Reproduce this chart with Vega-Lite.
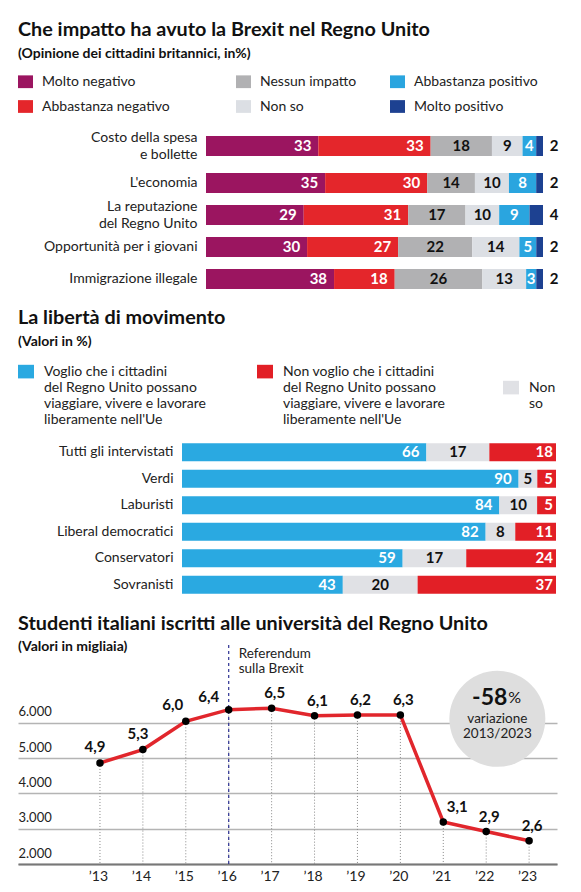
{
  "$schema": "https://vega.github.io/schema/vega-lite/v6.json",
  "padding": {"left": 0, "top": 20, "right": 0, "bottom": 0},
  "background": "white",
  "config": {
    "view": {"stroke": null},
    "font": "Lato",
    "title": {"font": "Lato", "fontSize": 19.8, "fontWeight": "bold", "color": "#111111", "anchor": "start", "dx": 18, "subtitleFont": "Lato", "subtitleFontSize": 14, "subtitleFontWeight": "bold", "subtitleColor": "#111111", "subtitlePadding": 7}
  },
  "datasets": {
    "impatto": [
      {"voce": "Costo della spesa e bollette", "giudizio": "Molto negativo", "ordine": 1, "valore": 33},
      {"voce": "Costo della spesa e bollette", "giudizio": "Abbastanza negativo", "ordine": 2, "valore": 33},
      {"voce": "Costo della spesa e bollette", "giudizio": "Nessun impatto", "ordine": 3, "valore": 18},
      {"voce": "Costo della spesa e bollette", "giudizio": "Non so", "ordine": 4, "valore": 9},
      {"voce": "Costo della spesa e bollette", "giudizio": "Abbastanza positivo", "ordine": 5, "valore": 4},
      {"voce": "Costo della spesa e bollette", "giudizio": "Molto positivo", "ordine": 6, "valore": 2},
      {"voce": "L'economia", "giudizio": "Molto negativo", "ordine": 1, "valore": 35},
      {"voce": "L'economia", "giudizio": "Abbastanza negativo", "ordine": 2, "valore": 30},
      {"voce": "L'economia", "giudizio": "Nessun impatto", "ordine": 3, "valore": 14},
      {"voce": "L'economia", "giudizio": "Non so", "ordine": 4, "valore": 10},
      {"voce": "L'economia", "giudizio": "Abbastanza positivo", "ordine": 5, "valore": 8},
      {"voce": "L'economia", "giudizio": "Molto positivo", "ordine": 6, "valore": 2},
      {"voce": "La reputazione del Regno Unito", "giudizio": "Molto negativo", "ordine": 1, "valore": 29},
      {"voce": "La reputazione del Regno Unito", "giudizio": "Abbastanza negativo", "ordine": 2, "valore": 31},
      {"voce": "La reputazione del Regno Unito", "giudizio": "Nessun impatto", "ordine": 3, "valore": 17},
      {"voce": "La reputazione del Regno Unito", "giudizio": "Non so", "ordine": 4, "valore": 10},
      {"voce": "La reputazione del Regno Unito", "giudizio": "Abbastanza positivo", "ordine": 5, "valore": 9},
      {"voce": "La reputazione del Regno Unito", "giudizio": "Molto positivo", "ordine": 6, "valore": 4},
      {"voce": "Opportunità per i giovani", "giudizio": "Molto negativo", "ordine": 1, "valore": 30},
      {"voce": "Opportunità per i giovani", "giudizio": "Abbastanza negativo", "ordine": 2, "valore": 27},
      {"voce": "Opportunità per i giovani", "giudizio": "Nessun impatto", "ordine": 3, "valore": 22},
      {"voce": "Opportunità per i giovani", "giudizio": "Non so", "ordine": 4, "valore": 14},
      {"voce": "Opportunità per i giovani", "giudizio": "Abbastanza positivo", "ordine": 5, "valore": 5},
      {"voce": "Opportunità per i giovani", "giudizio": "Molto positivo", "ordine": 6, "valore": 2},
      {"voce": "Immigrazione illegale", "giudizio": "Molto negativo", "ordine": 1, "valore": 38},
      {"voce": "Immigrazione illegale", "giudizio": "Abbastanza negativo", "ordine": 2, "valore": 18},
      {"voce": "Immigrazione illegale", "giudizio": "Nessun impatto", "ordine": 3, "valore": 26},
      {"voce": "Immigrazione illegale", "giudizio": "Non so", "ordine": 4, "valore": 13},
      {"voce": "Immigrazione illegale", "giudizio": "Abbastanza positivo", "ordine": 5, "valore": 3},
      {"voce": "Immigrazione illegale", "giudizio": "Molto positivo", "ordine": 6, "valore": 2}
    ],
    "movimento": [
      {"gruppo": "Tutti gli intervistati", "risposta": "Voglio", "ordine": 1, "valore": 66},
      {"gruppo": "Tutti gli intervistati", "risposta": "Non so", "ordine": 2, "valore": 17},
      {"gruppo": "Tutti gli intervistati", "risposta": "Non voglio", "ordine": 3, "valore": 18},
      {"gruppo": "Verdi", "risposta": "Voglio", "ordine": 1, "valore": 90},
      {"gruppo": "Verdi", "risposta": "Non so", "ordine": 2, "valore": 5},
      {"gruppo": "Verdi", "risposta": "Non voglio", "ordine": 3, "valore": 5},
      {"gruppo": "Laburisti", "risposta": "Voglio", "ordine": 1, "valore": 84},
      {"gruppo": "Laburisti", "risposta": "Non so", "ordine": 2, "valore": 10},
      {"gruppo": "Laburisti", "risposta": "Non voglio", "ordine": 3, "valore": 5},
      {"gruppo": "Liberal democratici", "risposta": "Voglio", "ordine": 1, "valore": 82},
      {"gruppo": "Liberal democratici", "risposta": "Non so", "ordine": 2, "valore": 8},
      {"gruppo": "Liberal democratici", "risposta": "Non voglio", "ordine": 3, "valore": 11},
      {"gruppo": "Conservatori", "risposta": "Voglio", "ordine": 1, "valore": 59},
      {"gruppo": "Conservatori", "risposta": "Non so", "ordine": 2, "valore": 17},
      {"gruppo": "Conservatori", "risposta": "Non voglio", "ordine": 3, "valore": 24},
      {"gruppo": "Sovranisti", "risposta": "Voglio", "ordine": 1, "valore": 43},
      {"gruppo": "Sovranisti", "risposta": "Non so", "ordine": 2, "valore": 20},
      {"gruppo": "Sovranisti", "risposta": "Non voglio", "ordine": 3, "valore": 37}
    ],
    "studenti": [
      {"anno": 2013, "studenti": 4860, "etichetta": "4,9"},
      {"anno": 2014, "studenti": 5240, "etichetta": "5,3"},
      {"anno": 2015, "studenti": 6040, "etichetta": "6,0"},
      {"anno": 2016, "studenti": 6370, "etichetta": "6,4"},
      {"anno": 2017, "studenti": 6410, "etichetta": "6,5"},
      {"anno": 2018, "studenti": 6200, "etichetta": "6,1"},
      {"anno": 2019, "studenti": 6220, "etichetta": "6,2"},
      {"anno": 2020, "studenti": 6220, "etichetta": "6,3"},
      {"anno": 2021, "studenti": 3190, "etichetta": "3,1"},
      {"anno": 2022, "studenti": 2920, "etichetta": "2,9"},
      {"anno": 2023, "studenti": 2660, "etichetta": "2,6"}
    ]
  },
  "concat": [
    {
      "title": {"text": "Che impatto ha avuto la Brexit nel Regno Unito", "subtitle": "(Opinione dei cittadini britannici, in%)", "offset": 13},
      "width": 581,
      "height": 40,
      "data": {"name": "impatto"},
      "transform": [
        {"filter": "datum.voce == 'Costo della spesa e bollette'"},
        {"stack": "valore", "groupby": ["voce"], "sort": [{"field": "ordine", "order": "ascending"}], "offset": "normalize", "as": ["x0", "x1"]}
      ],
      "encoding": {
        "y": {"field": "voce", "type": "nominal", "sort": null, "scale": {"range": [0, 42]}, "axis": {"title": null, "domain": false, "ticks": false, "offset": -206, "labelPadding": 9, "labelFontSize": 14, "labelColor": "#222222", "labelLimit": 200, "labelLineHeight": 17, "labelOffset": -8, "labelExpr": "['Costo della spesa', 'e bollette']"}}
      },
      "layer": [
        {
          "mark": {"type": "bar", "size": 20},
          "encoding": {
            "x": {"field": "x0", "type": "quantitative", "scale": {"domain": [0, 1], "nice": false, "range": [206, 543]}, "axis": null},
            "x2": {"field": "x1"},
            "color": {
              "field": "giudizio", "type": "nominal", "sort": null,
              "scale": {"domain": ["Molto negativo", "Abbastanza negativo", "Nessun impatto", "Non so", "Abbastanza positivo", "Molto positivo"], "range": ["#9b1560", "#e4262b", "#b1b1b3", "#dcdfe4", "#2aa5df", "#1d4191"]},
              "legend": {"orient": "none", "legendX": 18, "legendY": -51, "title": null, "columns": 3, "direction": "horizontal", "gridAlign": "each", "columnPadding": 33, "rowPadding": 10, "values": ["Molto negativo", "Nessun impatto", "Abbastanza positivo", "Abbastanza negativo", "Non so", "Molto positivo"], "symbolType": "M-1,-0.85H1V0.85H-1Z", "symbolSize": 225, "symbolStrokeWidth": 0, "labelOffset": 9, "labelFontSize": 14, "labelColor": "#222222", "labelLimit": 300, "labelExpr": "datum.label == 'Abbastanza negativo' ? datum.label + '\u00a0\u00a0\u00a0\u00a0\u00a0\u00a0\u00a0\u00a0\u00a0\u200b' : datum.label"}
            }
          }
        },
        {
          "transform": [{"filter": "datum.ordine <= 2"}],
          "mark": {"type": "text", "align": "right", "dx": -7, "fontWeight": "bold", "fontSize": 15, "color": "white"},
          "encoding": {"x": {"field": "x1", "type": "quantitative"}, "text": {"field": "valore", "type": "quantitative"}}
        },
        {
          "transform": [{"filter": "datum.ordine == 3 || datum.ordine == 4"}, {"fold": ["x0", "x1"], "as": ["estremo", "posizione"]}],
          "mark": {"type": "text", "align": "center", "fontWeight": "bold", "fontSize": 15, "color": "#111111"},
          "encoding": {"x": {"aggregate": "mean", "field": "posizione", "type": "quantitative"}, "text": {"field": "valore", "type": "quantitative"}}
        },
        {
          "transform": [{"filter": "datum.ordine == 5"}, {"fold": ["x0", "x1"], "as": ["estremo", "posizione"]}],
          "mark": {"type": "text", "align": "center", "fontWeight": "bold", "fontSize": 15, "color": "white"},
          "encoding": {"x": {"aggregate": "mean", "field": "posizione", "type": "quantitative"}, "text": {"field": "valore", "type": "quantitative"}}
        },
        {
          "transform": [{"filter": "datum.ordine == 6"}],
          "mark": {"type": "text", "align": "center", "dx": 11, "fontWeight": "bold", "fontSize": 15, "color": "#111111"},
          "encoding": {"x": {"field": "x1", "type": "quantitative"}, "text": {"field": "valore", "type": "quantitative"}}
        }
      ]
    },
    {
      "width": 581,
      "height": 141,
      "data": {"name": "impatto"},
      "transform": [
        {"filter": "datum.voce != 'Costo della spesa e bollette'"},
        {"stack": "valore", "groupby": ["voce"], "sort": [{"field": "ordine", "order": "ascending"}], "offset": "normalize", "as": ["x0", "x1"]}
      ],
      "encoding": {
        "y": {"field": "voce", "type": "nominal", "sort": null, "scale": {"range": [0, 128], "paddingInner": 0, "paddingOuter": 0}, "axis": {"title": null, "domain": false, "ticks": false, "offset": -206, "labelPadding": 9, "labelFontSize": 14, "labelColor": "#222222", "labelLimit": 200, "labelLineHeight": 17, "labelOffset": {"condition": {"test": "datum.value == 'La reputazione del Regno Unito'", "value": -8}, "value": 0}, "labelExpr": "datum.label == 'La reputazione del Regno Unito' ? ['La reputazione', 'del Regno Unito'] : datum.label"}}
      },
      "layer": [
        {
          "mark": {"type": "bar", "size": 20},
          "encoding": {
            "x": {"field": "x0", "type": "quantitative", "scale": {"domain": [0, 1], "nice": false, "range": [206, 543]}, "axis": null},
            "x2": {"field": "x1"},
            "color": {
              "field": "giudizio", "type": "nominal", "sort": null,
              "scale": {"domain": ["Molto negativo", "Abbastanza negativo", "Nessun impatto", "Non so", "Abbastanza positivo", "Molto positivo"], "range": ["#9b1560", "#e4262b", "#b1b1b3", "#dcdfe4", "#2aa5df", "#1d4191"]},
              "legend": null
            }
          }
        },
        {
          "transform": [{"filter": "datum.ordine <= 2"}],
          "mark": {"type": "text", "align": "right", "dx": -7, "fontWeight": "bold", "fontSize": 15, "color": "white"},
          "encoding": {"x": {"field": "x1", "type": "quantitative"}, "text": {"field": "valore", "type": "quantitative"}}
        },
        {
          "transform": [{"filter": "datum.ordine == 3 || datum.ordine == 4"}, {"fold": ["x0", "x1"], "as": ["estremo", "posizione"]}],
          "mark": {"type": "text", "align": "center", "fontWeight": "bold", "fontSize": 15, "color": "#111111"},
          "encoding": {"x": {"aggregate": "mean", "field": "posizione", "type": "quantitative"}, "text": {"field": "valore", "type": "quantitative"}}
        },
        {
          "transform": [{"filter": "datum.ordine == 5"}, {"fold": ["x0", "x1"], "as": ["estremo", "posizione"]}],
          "mark": {"type": "text", "align": "center", "fontWeight": "bold", "fontSize": 15, "color": "white"},
          "encoding": {"x": {"aggregate": "mean", "field": "posizione", "type": "quantitative"}, "text": {"field": "valore", "type": "quantitative"}}
        },
        {
          "transform": [{"filter": "datum.ordine == 6"}],
          "mark": {"type": "text", "align": "center", "dx": 11, "fontWeight": "bold", "fontSize": 15, "color": "#111111"},
          "encoding": {"x": {"field": "x1", "type": "quantitative"}, "text": {"field": "valore", "type": "quantitative"}}
        }
      ]
    },
    {
      "title": {"text": "La libertà di movimento", "subtitle": "(Valori in %)", "offset": 19},
      "width": 581,
      "height": 174,
      "data": {"name": "movimento"},
      "transform": [
        {"stack": "valore", "groupby": ["gruppo"], "sort": [{"field": "ordine", "order": "ascending"}], "offset": "normalize", "as": ["x0", "x1"]}
      ],
      "encoding": {
        "y": {"field": "gruppo", "type": "nominal", "sort": null, "scale": {"range": [0, 159], "paddingInner": 0, "paddingOuter": 0}, "axis": {"title": null, "domain": false, "ticks": false, "offset": -182, "labelPadding": 9, "labelFontSize": 14, "labelColor": "#222222", "labelLimit": 200}}
      },
      "layer": [
        {
          "mark": {"type": "bar", "size": 18},
          "encoding": {
            "x": {"field": "x0", "type": "quantitative", "scale": {"domain": [0, 1], "nice": false, "range": [182, 556]}, "axis": null},
            "x2": {"field": "x1"},
            "color": {
              "field": "risposta", "type": "nominal", "sort": null,
              "scale": {"domain": ["Voglio", "Non voglio", "Non so"], "range": ["#2aa9e1", "#e21f26", "#e0e1e5"]},
              "legend": {"orient": "none", "legendX": 18, "legendY": -71, "title": null, "columns": 3, "direction": "horizontal", "gridAlign": "each", "columnPadding": 50, "symbolType": "M-1,-1.4H1V0.3H-1Z", "symbolSize": 256, "symbolStrokeWidth": 0, "labelOffset": 10, "labelFontSize": 14, "labelColor": "#222222", "labelLimit": 400, "labelBaseline": "alphabetic", "labelLineHeight": 16.5, "labelExpr": "datum.label == 'Non so' ? ['Non', 'so'] : datum.label == 'Voglio' ? ['Voglio che i cittadini', 'del Regno Unito possano', 'viaggiare, vivere e lavorare', 'liberamente nell\\'Ue'] : ['Non voglio che i cittadini', 'del Regno Unito possano', 'viaggiare, vivere e lavorare\u00a0\u00a0\u200b', 'liberamente nell\\'Ue']"}
            }
          }
        },
        {
          "transform": [{"filter": "datum.risposta == 'Voglio'"}],
          "mark": {"type": "text", "align": "right", "dx": -7, "fontWeight": "bold", "fontSize": 15, "color": "white"},
          "encoding": {"x": {"field": "x1", "type": "quantitative"}, "text": {"field": "valore", "type": "quantitative"}}
        },
        {
          "transform": [{"filter": "datum.risposta == 'Non voglio'"}],
          "mark": {"type": "text", "align": "right", "dx": -3, "fontWeight": "bold", "fontSize": 15, "color": "white"},
          "encoding": {"x": {"field": "x1", "type": "quantitative"}, "text": {"field": "valore", "type": "quantitative"}}
        },
        {
          "transform": [{"filter": "datum.risposta == 'Non so'"}, {"fold": ["x0", "x1"], "as": ["estremo", "posizione"]}],
          "mark": {"type": "text", "align": "center", "fontWeight": "bold", "fontSize": 15, "color": "#111111"},
          "encoding": {"x": {"aggregate": "mean", "field": "posizione", "type": "quantitative"}, "text": {"field": "valore", "type": "quantitative"}}
        }
      ]
    },
    {
      "title": {"text": "Studenti italiani iscritti alle università del Regno Unito", "subtitle": "(Valori in migliaia)", "offset": -10},
      "width": 581,
      "height": 219,
      "layer": [
        {
          "data": {"name": "studenti"},
          "mark": {"type": "rule", "color": "#888888", "strokeWidth": 1, "strokeDash": [1, 2]},
          "encoding": {
            "x": {"field": "anno", "type": "quantitative", "scale": {"domain": [2011.09, 2023.65], "nice": false, "zero": false, "range": [18, 557]}, "axis": {"title": null, "values": [2013, 2014, 2015, 2016, 2017, 2018, 2019, 2020, 2021, 2022, 2023], "grid": false, "ticks": false, "domainColor": "#777777", "domainWidth": 2, "labelFontSize": 14, "labelColor": "#222222", "labelPadding": 5, "labelOffset": -2, "labelExpr": "'\u2019' + substring(toString(datum.value), 2)"}},
            "y": {"field": "studenti", "type": "quantitative", "scale": {"domain": [2000, 8200], "nice": false, "zero": false}, "axis": {"title": null, "values": [2000, 3000, 4000, 5000, 6000], "grid": true, "gridColor": "#b4b4b4", "gridWidth": 1.5, "domain": false, "ticks": false, "offset": -18, "labelAlign": "left", "labelPadding": 0, "labelBaseline": "middle", "labelOffset": -11, "labelFontSize": 13, "labelColor": "#222222", "labelExpr": "replace(format(datum.value, ','), ',', '.')"}},
            "y2": {"datum": 2000}
          }
        },
        {
          "data": {"values": [{"anno": 2016}]},
          "mark": {"type": "rule", "color": "#2d3192", "strokeWidth": 1.2, "strokeDash": [3, 3]},
          "encoding": {"x": {"field": "anno", "type": "quantitative"}}
        },
        {
          "data": {"values": [{"anno": 2016, "posizione": 7950, "testo": "Referendum\nsulla Brexit"}]},
          "mark": {"type": "text", "align": "left", "dx": 10, "fontSize": 13.5, "color": "#222222", "lineBreak": "\n", "lineHeight": 15},
          "encoding": {"x": {"field": "anno", "type": "quantitative"}, "y": {"field": "posizione", "type": "quantitative"}, "text": {"field": "testo"}}
        },
        {
          "data": {"values": [{"anno": 2022.26, "posizione": 6110}]},
          "mark": {"type": "point", "shape": "circle", "filled": true, "opacity": 1, "size": 9216, "color": "#dedede"},
          "encoding": {"x": {"field": "anno", "type": "quantitative"}, "y": {"field": "posizione", "type": "quantitative"}}
        },
        {
          "data": {"values": [{"anno": 2022.26, "posizione": 6700, "testo": "-58"}]},
          "mark": {"type": "text", "align": "right", "dx": 10, "fontSize": 23, "fontWeight": "bold", "color": "#111111"},
          "encoding": {"x": {"field": "anno", "type": "quantitative"}, "y": {"field": "posizione", "type": "quantitative"}, "text": {"field": "testo"}}
        },
        {
          "data": {"values": [{"anno": 2022.26, "posizione": 6700, "testo": "%"}]},
          "mark": {"type": "text", "align": "left", "dx": 11, "fontSize": 16, "color": "#111111"},
          "encoding": {"x": {"field": "anno", "type": "quantitative"}, "y": {"field": "posizione", "type": "quantitative"}, "text": {"field": "testo"}}
        },
        {
          "data": {"values": [{"anno": 2022.26, "posizione": 6110, "testo": "variazione\n2013/2023"}]},
          "mark": {"type": "text", "align": "center", "fontSize": 13.5, "color": "#222222", "lineBreak": "\n", "lineHeight": 15},
          "encoding": {"x": {"field": "anno", "type": "quantitative"}, "y": {"field": "posizione", "type": "quantitative"}, "text": {"field": "testo"}}
        },
        {
          "data": {"name": "studenti"},
          "mark": {"type": "line", "color": "#e1262c", "strokeWidth": 3.5},
          "encoding": {"x": {"field": "anno", "type": "quantitative"}, "y": {"field": "studenti", "type": "quantitative"}}
        },
        {
          "data": {"name": "studenti"},
          "mark": {"type": "point", "shape": "circle", "filled": true, "opacity": 1, "size": 56, "color": "#000000"},
          "encoding": {"x": {"field": "anno", "type": "quantitative"}, "y": {"field": "studenti", "type": "quantitative"}}
        },
        {
          "data": {"name": "studenti"},
          "transform": [{"filter": "datum.anno <= 2014"}],
          "mark": {"type": "text", "dx": -5, "dy": -16, "fontSize": 15, "fontWeight": "bold", "color": "#111111"},
          "encoding": {"x": {"field": "anno", "type": "quantitative"}, "y": {"field": "studenti", "type": "quantitative"}, "text": {"field": "etichetta"}}
        },
        {
          "data": {"name": "studenti"},
          "transform": [{"filter": "datum.anno == 2015"}],
          "mark": {"type": "text", "dx": -13, "dy": -16, "fontSize": 15, "fontWeight": "bold", "color": "#111111"},
          "encoding": {"x": {"field": "anno", "type": "quantitative"}, "y": {"field": "studenti", "type": "quantitative"}, "text": {"field": "etichetta"}}
        },
        {
          "data": {"name": "studenti"},
          "transform": [{"filter": "datum.anno == 2016"}],
          "mark": {"type": "text", "dx": -20, "dy": -13, "fontSize": 15, "fontWeight": "bold", "color": "#111111"},
          "encoding": {"x": {"field": "anno", "type": "quantitative"}, "y": {"field": "studenti", "type": "quantitative"}, "text": {"field": "etichetta"}}
        },
        {
          "data": {"name": "studenti"},
          "transform": [{"filter": "datum.anno >= 2017 && datum.anno != 2021"}],
          "mark": {"type": "text", "dx": 3, "dy": -15, "fontSize": 15, "fontWeight": "bold", "color": "#111111"},
          "encoding": {"x": {"field": "anno", "type": "quantitative"}, "y": {"field": "studenti", "type": "quantitative"}, "text": {"field": "etichetta"}}
        },
        {
          "data": {"name": "studenti"},
          "transform": [{"filter": "datum.anno == 2021"}],
          "mark": {"type": "text", "dx": 14, "dy": -15, "fontSize": 15, "fontWeight": "bold", "color": "#111111"},
          "encoding": {"x": {"field": "anno", "type": "quantitative"}, "y": {"field": "studenti", "type": "quantitative"}, "text": {"field": "etichetta"}}
        }
      ]
    }
  ],
  "columns": 1,
  "spacing": 0,
  "resolve": {"scale": {"color": "independent"}, "legend": {"color": "independent"}}
}
